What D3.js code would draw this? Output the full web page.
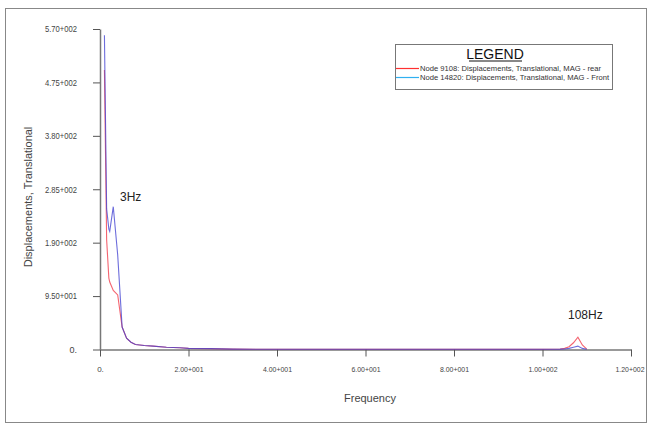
<!DOCTYPE html>
<html lang="en">
<head>
<meta charset="UTF-8">
<title>Displacements</title>
<script src="https://cdn.jsdelivr.net/npm/d3@7"></script>
<style>
  body { margin: 0; background: #fff; }
  text { font-family: "Liberation Sans", Arial, sans-serif; }
  .tick text { font-family: "Liberation Sans", Arial, sans-serif; font-size: 9px; fill: #444; }
  .xaxis .tick text { font-size: 8px; }
</style>
</head>
<body>
<script>
var width = 649, height = 430;
var margin = {left: 100, top: 29, right: 18, bottom: 80};

// frequency samples (Hz) and magnitude of each node
var freqs = [1, 1.5, 2, 2.2, 3, 4, 5, 6, 7, 8, 10, 12, 15, 18, 20, 25, 30, 40, 50, 60, 70, 80, 90, 100, 104, 105, 106, 107, 108, 109, 110];
var rear  = [497, 195, 127, 120, 105, 97, 40, 20, 13, 9, 7, 6, 4, 3, 2, 1.5, 0.6, 0.5, 0.5, 0.5, 0.5, 0.5, 0.5, 0.5, 0.8, 2, 5, 12, 22, 8, 0.5];
var front = [559, 250, 214, 210, 254, 168, 40, 20, 13, 9, 7, 6, 4, 3, 2, 1.5, 0.6, 0.5, 0.5, 0.5, 0.5, 0.5, 0.5, 0.5, 0.6, 1, 2, 4, 6, 2, 0.5];

var xTicks = [0, 20, 40, 60, 80, 100, 120];
var xTickLabels = ["0.", "2.00+001", "4.00+001", "6.00+001", "8.00+001", "1.00+002", "1.20+002"];
var yTicks = [0, 95, 190, 285, 380, 475, 570];
var yTickLabels = ["0.", "9.50+001", "1.90+002", "2.85+002", "3.80+002", "4.75+002", "5.70+002"];

var seriesNames = ["Node 9108: Displacements, Translational, MAG - rear", "Node 14820: Displacements, Translational, MAG - Front"];

var svg = d3.select("body").append("svg").attr("width", width).attr("height", height);

// outer frame
svg.append("rect").attr("x", 5.5).attr("y", 8.5).attr("width", 641).attr("height", 414)
   .attr("fill", "none").attr("stroke", "#888").attr("stroke-width", 1);

var xScale = d3.scaleLinear().domain([0, 120]).range([margin.left, 631]);
var yScale = d3.scaleLinear().domain([0, 570]).range([349.5, margin.top]);

var xAxis = d3.axisBottom(xScale).tickValues(xTicks).tickSize(7).tickSizeOuter(0).tickPadding(10)
              .tickFormat(function(d, i) { return xTickLabels[i]; });
var yAxis = d3.axisLeft(yScale).tickValues(yTicks).tickSize(7).tickSizeOuter(0).tickPadding(16)
              .tickFormat(function(d, i) { return yTickLabels[i]; });

var gx = svg.append("g").attr("class", "xaxis").attr("transform", "translate(0," + yScale(0) + ")").call(xAxis);
var gy = svg.append("g").attr("transform", "translate(" + xScale(0) + ",0)").call(yAxis);
[gx, gy].forEach(function(g, k) {
  g.select(".domain").attr("stroke", "#777").attr("stroke-width", 1.5);
  g.selectAll(".tick line").attr("stroke", "#555");
  // the labels are drawn in a narrow face
  g.selectAll(".tick text").filter(function() { return this.textContent.length > 2; })
   .attr("textLength", k === 0 ? 29 : 32).attr("lengthAdjust", "spacingAndGlyphs");
});
gx.selectAll(".tick text").filter(function(d) { return d === 120; }).attr("dx", -1.5);

// curves
var line = d3.line()
    .x(function(d) { return xScale(d[0]); })
    .y(function(d) { return yScale(d[1]); });

svg.append("path").datum(freqs.map(function(f, i) { return [f, rear[i]]; }))
   .attr("d", line).attr("fill", "none").attr("stroke", "#f03040").attr("stroke-opacity", 0.75).attr("stroke-width", 1.1);
svg.append("path").datum(freqs.map(function(f, i) { return [f, front[i]]; }))
   .attr("d", line).attr("fill", "none").attr("stroke", "#3c3cd0").attr("stroke-opacity", 0.75).attr("stroke-width", 1.1);

// annotations
svg.append("text").attr("x", 120).attr("y", 201).attr("font-size", 12).attr("fill", "#222").text("3Hz");
svg.append("text").attr("x", 568).attr("y", 319).attr("font-size", 12).attr("fill", "#222").text("108Hz");

// axis titles
svg.append("text").attr("x", 370).attr("y", 402).attr("text-anchor", "middle")
   .attr("font-size", 11).attr("fill", "#444").text("Frequency");
svg.append("text").attr("transform", "translate(32,197) rotate(-90)").attr("text-anchor", "middle")
   .attr("font-size", 11).attr("fill", "#444").text("Displacements, Translational");

// legend
var legend = svg.append("g").attr("transform", "translate(395,44)");
legend.append("rect").attr("x", 0.5).attr("y", 0.5).attr("width", 217).attr("height", 45)
      .attr("fill", "#fff").attr("stroke", "#777");
legend.append("text").attr("x", 100).attr("y", 15).attr("text-anchor", "middle")
      .attr("font-size", 14).attr("fill", "#111").text("LEGEND");
legend.append("line").attr("x1", 74).attr("x2", 127).attr("y1", 17).attr("y2", 17).attr("stroke", "#111").attr("stroke-width", 1);
var legendColors = ["#ff3030", "#30b0f0"];
seriesNames.forEach(function(name, i) {
  var y = 24.5 + i * 9;
  legend.append("line").attr("x1", 1).attr("x2", 24).attr("y1", y).attr("y2", y)
        .attr("stroke", legendColors[i]).attr("stroke-width", 1.2);
  legend.append("text").attr("x", 25).attr("y", y + 2.5).attr("font-size", 7.5).attr("fill", "#333")
        .attr("textLength", i === 0 ? 181 : 189).attr("lengthAdjust", "spacingAndGlyphs").text(name);
});
</script>
</body>
</html>
